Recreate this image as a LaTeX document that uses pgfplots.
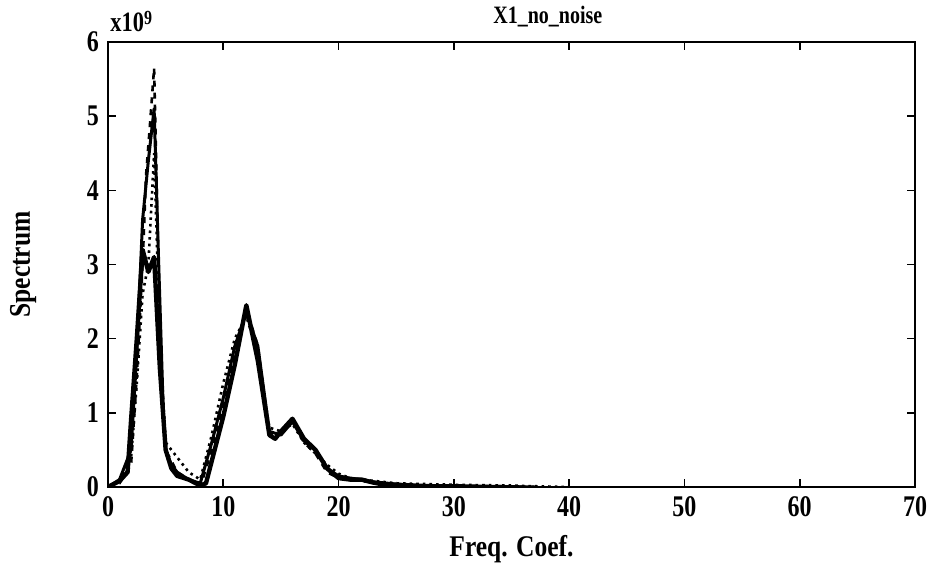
\documentclass[border=0pt]{standalone}
\usepackage{pgfplots}
\pgfplotsset{compat=1.18}
\usetikzlibrary{calc}
\usepackage{fontspec}
\setmainfont{Liberation Serif}
\newfontfamily\tickfont[FakeStretch=0.8]{Liberation Serif}
\newfontfamily\labfont[FakeStretch=0.85]{Liberation Serif}
\begin{document}
\begin{tikzpicture}
\begin{axis}[
  name=ax,
  scale only axis,
  width=403.5pt, height=222.5pt,
  xmin=0, xmax=70, ymin=0, ymax=6,
  xtick={0,10,...,70}, ytick={0,1,...,6},
  tick align=inside,
  major tick length=4pt,
  axis line style={line width=1.1pt},
  every tick/.style={black, line width=0.8pt},
  /pgf/number format/assume math mode=true,
  ticklabel style={font=\fontsize{15}{17}\tickfont\bfseries},
  xticklabel style={yshift=-1pt},
  yticklabel style={xshift=-1pt},
  every axis title shift=0pt,
  title={X1\_no\_noise},
  title style={font=\fontsize{12.5}{15}\tickfont\bfseries, at={(axis description cs:0.545,1.058)}, anchor=center},
  xlabel={Freq. Coef.},
  xlabel style={font=\fontsize{15}{17}\labfont\bfseries, at={(axis description cs:0.5,-0.139)}, anchor=center},
  ylabel={Spectrum},
  ylabel style={font=\fontsize{15}{17}\labfont\bfseries, at={(axis description cs:-0.1053,0.5)}, anchor=center},
  clip=true,
]
% thick solid
\addplot[black, line width=2.2pt, line join=round] coordinates {
(0,0) (1,0.08) (1.7,0.2) (2,0.9) (2.5,2.0) (3,3.2) (3.5,2.9) (4,3.1) (4.5,1.6) (5,0.5) (5.5,0.25) (6,0.15) (7,0.1) (8,0.02) (8.5,0.05) (9,0.35) (10,0.95) (11,1.65) (12,2.45) (13,1.7) (14,0.7) (14.5,0.65) (15,0.75) (16,0.92) (17,0.65) (18,0.5) (19,0.25) (20,0.12) (21,0.1) (22,0.1) (23,0.06) (24,0.03) (25,0.03) (26,0.01) (27,0) (30,0)
};
% dashed
\addplot[black, line width=1.3pt, dashed] coordinates {
(0,0) (1,0.05) (2,0.3) (2.5,1.5) (3,3.0) (3.3,4.2) (3.6,4.8) (4,5.65) (4.3,3.5) (4.6,1.5) (5,0.5) (6,0.2) (7,0.1) (8,0) (9,0.5) (10,1.1) (11,1.8) (12,2.4) (13,1.9) (14,0.7) (15,0.75) (16,0.9) (17,0.6) (18,0.45) (19,0.2) (20,0.12) (21,0.1) (22,0.08) (24,0.04) (26,0.02) (30,0.01) (34,0.01) (37,0)
};
% medium solid
\addplot[black, line width=1.5pt, line join=round] coordinates {
(0,0) (1,0.1) (2,0.5) (2.5,1.8) (3,3.6) (3.5,4.4) (4,5.1) (4.4,3.0) (4.8,1.0) (5,0.5) (5.5,0.3) (6,0.2) (7,0.1) (8,0.05) (9,0.6) (10,1.2) (11,1.9) (12,2.35) (13,1.9) (14,0.75) (15,0.7) (16,0.88) (17,0.62) (18,0.5) (19,0.25) (20,0.15) (21,0.12) (22,0.1) (23,0.07) (25,0.04) (28,0.02) (30,0.02) (33,0.01) (37,0)
};
% dotted
\addplot[black, line width=1.3pt, dotted] coordinates {
(0,0) (1,0.1) (2,0.4) (2.5,1.4) (3,2.6) (3.5,3.0) (4,4.5) (4.5,2.0) (5,0.6) (6,0.4) (7,0.2) (8,0.1) (9,0.7) (10,1.4) (11,2.0) (12,2.3) (13,1.8) (14,0.8) (15,0.75) (16,0.85) (17,0.6) (18,0.45) (19,0.3) (20,0.18) (21,0.12) (22,0.1) (25,0.05) (30,0.03) (35,0.02) (37,0.01) (40,0)
};
\end{axis}
\node[font=\fontsize{14}{16}\tickfont\bfseries, anchor=south west, inner sep=0pt] at ($(ax.north west)+(1pt,5pt)$) {x10\raisebox{0.55ex}{\fontsize{10}{11}\tickfont\bfseries 9}};
\pgfresetboundingbox
\path ($(ax.south west)+(-54pt,-41.5pt)$) rectangle ($(ax.north east)+(9.5pt,21pt)$);
\end{tikzpicture}
\end{document}
